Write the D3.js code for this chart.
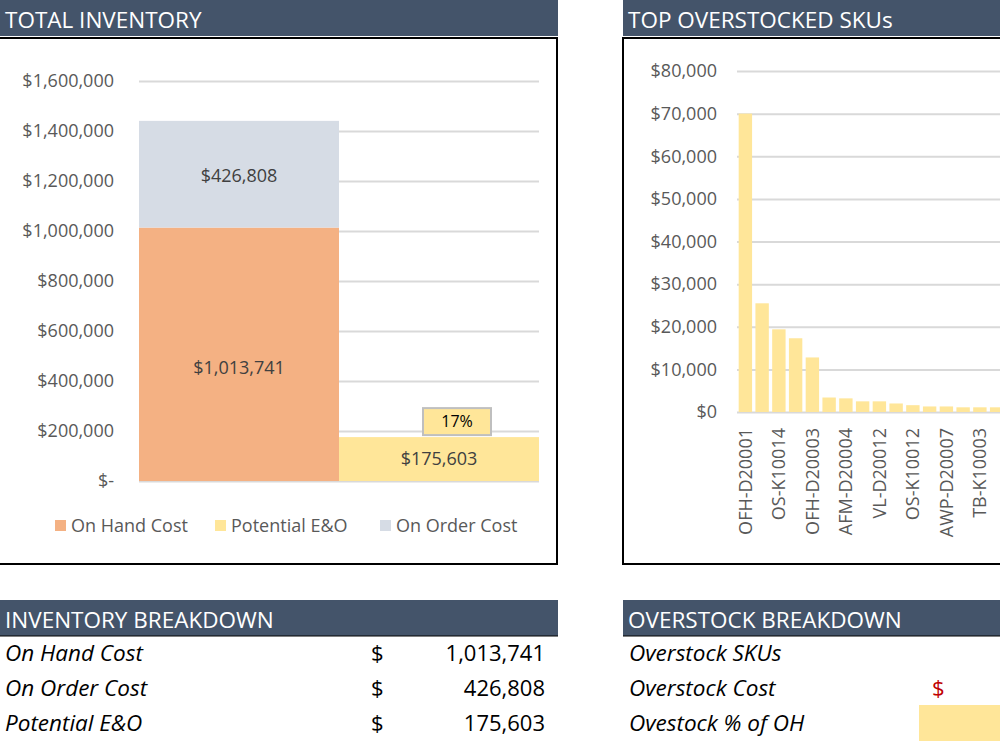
<!DOCTYPE html>
<html>
<head>
<meta charset="utf-8">
<script src="https://cdn.jsdelivr.net/npm/d3@7"></script>
<style>
  body { margin: 0; background: #fff; }
  svg text { font-family: "Open Sans", sans-serif; }
</style>
</head>
<body>
<div id="dash"></div>
<script>
// values
const barGroups = ["Inventory", "E&O"];
const seriesNames = ["On Hand Cost", "Potential E&O", "On Order Cost"];
const onHandCost = [1013741, 0];
const potentialEO = [0, 175603];
const onOrderCost = [426808, 0];
const invTicks = [0, 200000, 400000, 600000, 800000, 1000000, 1200000, 1400000, 1600000];

const skuLabels = ["OFH-D20001", "", "OS-K10014", "", "OFH-D20003", "", "AFM-D20004", "",
                   "VL-D20012", "", "OS-K10012", "", "AWP-D20007", "", "TB-K10003", ""];
const skuValues = [70000, 25500, 19400, 17300, 12800, 3400, 3200, 2500,
                   2500, 2000, 1600, 1300, 1300, 1100, 1100, 1100];
const skuTicks = [0, 10000, 20000, 30000, 40000, 50000, 60000, 70000, 80000];

const breakdownLabels = ["On Hand Cost", "On Order Cost", "Potential E&O"];
const breakdownValues = [1013741, 426808, 175603];
const overstockLabels = ["Overstock SKUs", "Overstock Cost", "Ovestock % of OH"];

const HEADER = "#44546A";
const COLORS = ["#F4B183", "#FFE699", "#D6DCE5"];
const GRID = "#D9D9D9";

const svg = d3.select("#dash").append("svg")
    .attr("width", 1000)
    .attr("height", 750);

function header(x, y, w, label) {
    svg.append("rect").attr("x", x).attr("y", y).attr("width", w).attr("height", 36).attr("fill", HEADER);
    svg.append("text").attr("x", x + 5).attr("y", y + 28)
        .attr("fill", "#fff").attr("font-size", 22.5).text(label);
}

// panels
header(0, 0, 558, "TOTAL INVENTORY");
header(623, 0, 400, "TOP OVERSTOCKED SKUs");
svg.append("rect").attr("x", -2).attr("y", 38).attr("width", 559).attr("height", 526)
    .attr("fill", "none").attr("stroke", "#000").attr("stroke-width", 2);
svg.append("rect").attr("x", 623).attr("y", 38).attr("width", 400).attr("height", 526)
    .attr("fill", "none").attr("stroke", "#000").attr("stroke-width", 2);

// ---- total inventory stacked bars
var rows = barGroups.map((g, i) => ({ group: g, onHand: onHandCost[i], eo: potentialEO[i], onOrder: onOrderCost[i] }));
var stacked = d3.stack().keys(["onHand", "eo", "onOrder"])(rows);

var x = d3.scaleBand().domain(barGroups).range([139, 539]).padding(0);
var y = d3.scaleLinear().domain([0, 1600000]).range([481, 81]);

var yAxis = svg.append("g").attr("transform", "translate(139,0)")
    .call(d3.axisLeft(y).tickValues(invTicks).tickSize(-400).tickPadding(25)
        .tickFormat(d => d === 0 ? "$-" : "$" + d3.format(",")(d)));
yAxis.select(".domain").remove();
yAxis.selectAll("line").attr("stroke", GRID).attr("stroke-width", 2);
yAxis.selectAll("text").attr("fill", "#595959").attr("font-size", 18)
    .style("font-family", "'Open Sans', sans-serif");

var labelShift = [14, 0, 2]; // Excel puts the on-hand label a bit below centre
stacked.forEach((layer, k) => {
    svg.append("g").selectAll("rect").data(layer.filter(d => d[1] > d[0])).join("rect")
        .attr("x", d => x(d.data.group))
        .attr("width", x.bandwidth())
        .attr("y", d => y(d[1]))
        .attr("height", d => y(d[0]) - y(d[1]))
        .attr("fill", COLORS[k]);
    svg.append("g").selectAll("text").data(layer.filter(d => d[1] > d[0])).join("text")
        .attr("x", d => x(d.data.group) + x.bandwidth() / 2)
        .attr("y", d => (y(d[0]) + y(d[1])) / 2 + 6 + labelShift[k])
        .attr("text-anchor", "middle")
        .attr("fill", "#404040").attr("font-size", 18)
        .text(d => "$" + d3.format(",")(d[1] - d[0]));
});

// percent callout on the E&O bar
var pct = Math.round(potentialEO[1] / onHandCost[0] * 100) + "%";
var cx = x("E&O") + x.bandwidth() / 2 + 18;
var cy = y(potentialEO[1]) - 16;
svg.append("rect").attr("x", cx - 34).attr("y", cy - 13).attr("width", 68).attr("height", 27)
    .attr("fill", "#FFE699").attr("stroke", "#BFBFBF").attr("stroke-width", 2);
svg.append("text").attr("x", cx).attr("y", cy + 6).attr("text-anchor", "middle")
    .attr("fill", "#000").attr("font-size", 16).text(pct);

// legend
var legendX = [55, 215, 380];
seriesNames.forEach((name, i) => {
    svg.append("rect").attr("x", legendX[i]).attr("y", 520).attr("width", 11).attr("height", 11).attr("fill", COLORS[i]);
    svg.append("text").attr("x", legendX[i] + 16).attr("y", 532)
        .attr("fill", "#595959").attr("font-size", 18).text(name);
});

// ---- top overstocked SKUs
var xs = d3.scaleBand().domain(d3.range(skuValues.length)).range([737, 1005])
    .paddingInner(0.2).paddingOuter(0.1);
var ys = d3.scaleLinear().domain([0, 80000]).range([412, 71]);

var ysAxis = svg.append("g").attr("transform", "translate(737,0)")
    .call(d3.axisLeft(ys).tickValues(skuTicks).tickSize(-270).tickPadding(20)
        .tickFormat(d => "$" + d3.format(",")(d)));
ysAxis.select(".domain").remove();
ysAxis.selectAll("line").attr("stroke", GRID).attr("stroke-width", 2);
ysAxis.selectAll("text").attr("fill", "#595959").attr("font-size", 18)
    .style("font-family", "'Open Sans', sans-serif");

svg.append("g").selectAll("rect").data(skuValues).join("rect")
    .attr("x", (d, i) => xs(i))
    .attr("width", xs.bandwidth())
    .attr("y", d => ys(d))
    .attr("height", d => ys(0) - ys(d))
    .attr("fill", "#FFE699");

var xsAxis = svg.append("g").attr("transform", "translate(0,412)")
    .call(d3.axisBottom(xs).tickSize(0).tickFormat(i => skuLabels[i]));
xsAxis.select(".domain").remove();
xsAxis.selectAll("text")
    .attr("transform", "rotate(-90)")
    .attr("x", -16).attr("y", 0).attr("dy", "0.35em")
    .attr("text-anchor", "end")
    .attr("fill", "#595959").attr("font-size", 18)
    .style("font-family", "'Open Sans', sans-serif");

// ---- breakdown tables
header(0, 600, 558, "INVENTORY BREAKDOWN");
header(623, 600, 400, "OVERSTOCK BREAKDOWN");
svg.append("line").attr("x1", 0).attr("x2", 558).attr("y1", 636).attr("y2", 636).attr("stroke", "#000");
svg.append("line").attr("x1", 623).attr("x2", 1000).attr("y1", 636).attr("y2", 636).attr("stroke", "#000");

breakdownLabels.forEach((lab, i) => {
    var by = 661 + i * 35;
    svg.append("text").attr("x", 5).attr("y", by).attr("font-size", 22.5)
        .attr("font-style", "italic").attr("fill", "#000").text(lab);
    svg.append("text").attr("x", 371).attr("y", by).attr("font-size", 22)
        .attr("fill", "#000").text("$");
    svg.append("text").attr("x", 545).attr("y", by).attr("font-size", 22)
        .attr("text-anchor", "end").attr("fill", "#000").text(d3.format(",")(breakdownValues[i]));
});

svg.append("rect").attr("x", 919).attr("y", 705).attr("width", 90).attr("height", 36).attr("fill", "#FFE699");
overstockLabels.forEach((lab, i) => {
    var by = 661 + i * 35;
    svg.append("text").attr("x", 629).attr("y", by).attr("font-size", 22.5)
        .attr("font-style", "italic").attr("fill", "#000").text(lab);
});
svg.append("text").attr("x", 932).attr("y", 696).attr("font-size", 22)
    .attr("fill", "#C00000").text("$");
</script>
</body>
</html>
